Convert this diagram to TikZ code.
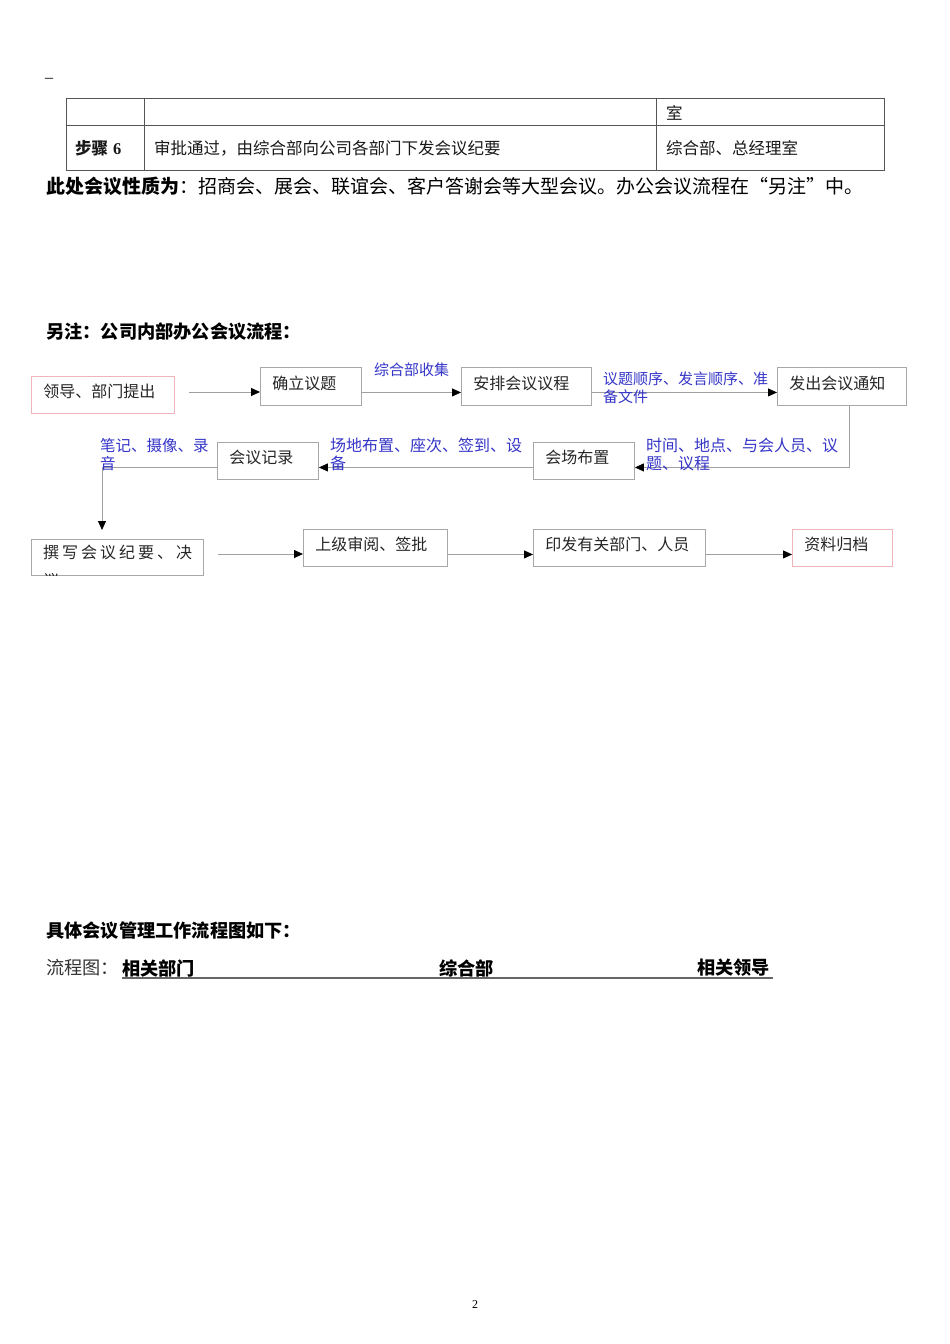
\documentclass[tikz,border=0pt]{standalone}
\usepackage{fontspec}
\setmainfont{Liberation Serif}
\newfontfamily\cjk{Noto Sans CJK SC}
\usetikzlibrary{arrows.meta,calc}
\definecolor{boxgray}{HTML}{A8A8A8}
\definecolor{pinkb}{HTML}{F0B4BC}
\definecolor{lblue}{HTML}{3535C8}
\definecolor{lgray}{HTML}{A0A0A0}
\definecolor{tgray}{HTML}{555555}
\newcommand{\gs}{\hspace{3pt}}
\tikzset{
  fbox/.style={draw=boxgray, line width=0.9pt, inner xsep=12pt, inner ysep=0pt,
    anchor=north west, align=left, text=black!85, text depth=8pt,
    font=\cjk\fontsize{16}{19}\selectfont},
  pbox/.style={fbox, draw=pinkb},
  lbl/.style={anchor=north west, inner sep=0pt, align=left, text=lblue,
    font=\cjk\fontsize{16}{18}\selectfont},
  flow/.style={draw=lgray, line width=0.8pt},
  arr/.style={flow, -{Triangle[length=9pt,width=8pt,color=black]}},
  txt/.style={anchor=west, inner sep=0pt, text=black!90, font=\cjk\fontsize{16.5}{19}\selectfont},
  head/.style={anchor=west, inner sep=0pt, text=black, font=\cjk\bfseries\fontsize{18.2}{21}\selectfont},
  tline/.style={draw=tgray, line width=0.9pt}
}
\begin{document}
\begin{tikzpicture}[x=1pt,y=-1pt]
\useasboundingbox[fill=white] (0,0) rectangle (950,1344);

% stray dash
\node[anchor=west, inner sep=0pt, font=\fontsize{16}{18}\selectfont] (dash) at (45,80) {--};

% table
\draw[tline] (66,98) rectangle (884,170);
\draw[tline] (66,125) -- (884,125);
\draw[tline] (144,98) -- (144,170);
\draw[tline] (656,98) -- (656,170);
\node[txt] (t1) at (666,113) {室};
\node[txt, font=\cjk\bfseries\fontsize{16.5}{19}\selectfont] (t2) at (75,148) {步骤\hspace{5pt}{\rmfamily\bfseries 6}};
\node[txt] (t3) at (154,148) {审批通过，由综合部向公司各部门下发会议纪要};
\node[txt] (t4) at (666,148) {综合部、总经理室};

% nature line
\node[anchor=west, inner sep=0pt, font=\cjk\fontsize{19}{22}\selectfont] (nat) at (46,186)
  {{\bfseries 此处会议性质为}：招商会、展会、联谊会、客户答谢会等大型会议。办公会议流程在“另注”中。};

\node[head] (h2) at (46,332) {另注：公司内部办公会议流程：};

% flowchart boxes
\node[pbox, text width=119pt, minimum height=37pt] (A) at (31,376) {领导、部门提出};
\node[fbox, text width=77pt, minimum height=38pt] (B) at (260,367) {确立议题};
\node[fbox, text width=106pt, minimum height=38pt] (C) at (461,367) {安排会议议程};
\node[fbox, text width=105pt, minimum height=38pt] (D) at (777,367) {发出会议通知};
\node[fbox, text width=77pt, minimum height=37pt] (E) at (533,442) {会场布置};
\node[fbox, text width=77pt, minimum height=37pt] (F) at (217,442) {会议记录};
\node[fbox, minimum width=172pt, minimum height=36pt] (G) at (31,539) {};
\begin{scope}
  \clip (31,539) rectangle (203,575);
  \node[anchor=north west, inner sep=0pt, align=left, text=black!85,
    font=\cjk\fontsize{16}{28}\selectfont] (Gt) at (43,545)
    {撰\gs 写\gs 会\gs 议\gs 纪\gs 要\gs 、\gs 决\\议};
\end{scope}
\node[fbox, text width=120pt, minimum height=37pt] (H) at (303,529) {上级审阅、签批};
\node[fbox, text width=148pt, minimum height=37pt] (I) at (533,529) {印发有关部门、人员};
\node[pbox, text width=76pt, minimum height=37pt] (J) at (792,529) {资料归档};

% connectors
\coordinate (a0) at (189,392);
\draw[arr] (a0) -- (a0 -| B.west);
\draw[arr] ([yshift=-6pt]B.east) -- ([yshift=-6pt]C.west);
\draw[arr] ([yshift=-6pt]C.east) -- ([yshift=-6pt]D.west);
\draw[arr] ([xshift=7.5pt]D.south) |- ([yshift=-6.5pt]E.east);
\draw[arr] ([yshift=-6.5pt]E.west) -- ([yshift=-6.5pt]F.east);
\coordinate (gtop) at (102,530);
\draw[arr] ([yshift=-6.5pt]F.west) -| (gtop);
\coordinate (g0) at (218,554);
\draw[arr] (g0) -- (g0 -| H.west);
\draw[arr] ([yshift=-6.5pt]H.east) -- ([yshift=-6.5pt]I.west);
\draw[arr] ([yshift=-6.5pt]I.east) -- ([yshift=-6.5pt]J.west);

% connector labels
\node[lbl, font=\cjk\fontsize{15}{17}\selectfont] (l1) at (374,363) {综合部收集};
\node[lbl, font=\cjk\fontsize{15}{17.5}\selectfont] (l2) at (603,372) {议题顺序、发言顺序、准\\备文件};
\node[lbl] (l3) at (646,438) {时间、地点、与会人员、议\\题、议程};
\node[lbl] (l4) at (330,438) {场地布置、座次、签到、设\\备};
\node[lbl, font=\cjk\fontsize{15.5}{18}\selectfont] (l5) at (100,438) {笔记、摄像、录\\音};

% lower text
\node[head] (h3) at (46,931) {具体会议管理工作流程图如下：};
\node[anchor=west, inner sep=0pt, font=\cjk\fontsize{18.2}{21}\selectfont, text=black!80] (lc) at (46,968) {流程图：};
\node[head] (c1) at (122,968) {相关部门};
\node[head] (c2) at (439,968) {综合部};
\node[head] (c3) at (697,968) {相关领导};
\draw[draw=black!60, line width=1.4pt] (122,978) -- (773,978);

\node[inner sep=0pt, font=\fontsize{12}{14}\selectfont] (pg) at (475,1305) {2};
\end{tikzpicture}
\end{document}
